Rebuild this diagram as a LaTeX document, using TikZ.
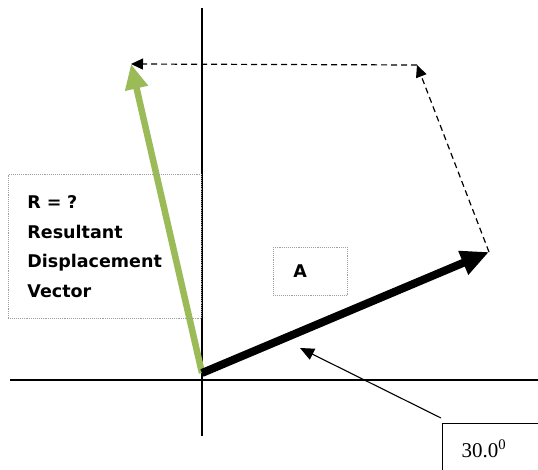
\documentclass[tikz,border=0pt]{standalone}
\usepackage{fontspec}
\setmainfont{Liberation Serif}
\newfontfamily\notefont{DejaVu Sans}
\usepackage{tikz}
\usetikzlibrary{arrows.meta,positioning,calc}
\definecolor{resgreen}{RGB}{155,187,89}
\tikzset{
  axisline/.style={line width=1.6pt, black},
  vecbig/.style={line width=8pt, black,
    -{Triangle[length=28pt, width=24pt]}},
  vecres/.style={line width=6.5pt, resgreen,
    -{Triangle[length=25pt, width=22pt]}},
  vecdash/.style={line width=1.2pt, dash pattern=on 6pt off 4pt,
    -{Triangle[length=12pt, width=11pt]}},
  notebox/.style={draw=gray!75, densely dotted, line width=0.9pt,
    anchor=north west, align=left,
    font=\notefont\bfseries\fontsize{17.5}{29.5}\selectfont},
  anglebox/.style={draw, line width=1.1pt, anchor=north west,
    align=left, font=\fontsize{21}{23}\selectfont},
  pointer/.style={line width=1.1pt, -{Triangle[length=14pt, width=12pt]}},
}

\begin{document}
\begin{tikzpicture}[x=1pt, y=-1pt]
\useasboundingbox (0,0) rectangle (538,470);

%% Axes
\coordinate (xl) at (10,380);
\coordinate (xr) at (538,380);
\coordinate (yt) at (202,8);
\coordinate (yb) at (202,436);
\draw[axisline] (xl) -- (xr);
\draw[axisline] (yt) -- (yb);

%% Vectors
\coordinate (orig)  at (202,373);
\coordinate (tipA)  at (489,252);
\coordinate (tipR)  at (131,64);
\coordinate (corner) at (417,65);
\draw[vecres] (orig) -- (tipR);
\draw[vecbig] (orig) -- (tipA);
\draw[vecdash] (tipA) -- (corner);
\draw[vecdash] (corner) -- (tipR);

%% Labels
\node[notebox, minimum width=193pt, minimum height=144pt,
  text width=155pt, inner xsep=19pt] (rlabel) at (8,174)
  {R = ?\\Resultant\\Displacement\\Vector};
\node[notebox, minimum width=74pt, minimum height=48pt,
  text width=34pt, inner xsep=20pt] (alabel) at (273,247) {A};
\node[anglebox, minimum height=50pt, text width=76pt,
  inner xsep=19pt] (ang) at (442,423) {30.0\textsuperscript{0}};
\coordinate (angtip) at (300,348);
\draw[pointer] ($(ang.north west)+(-1,-5)$) -- (angtip);
\end{tikzpicture}
\end{document}
